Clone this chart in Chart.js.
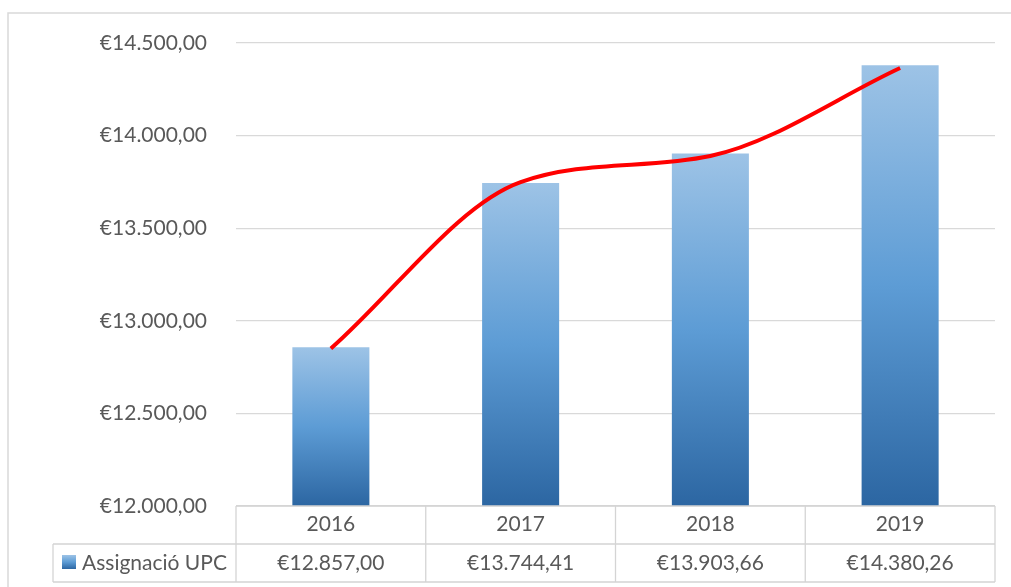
<!DOCTYPE html>
<html>
<head>
<meta charset="utf-8">
<script src="https://cdn.jsdelivr.net/npm/chart.js@4/dist/chart.umd.min.js"></script>
<style>
  html, body { margin: 0; padding: 0; background: #fff; }
  #wrap { position: relative; width: 1011px; height: 587px; }
</style>
</head>
<body>
<div id="wrap"><canvas id="grafic" width="1011" height="587"></canvas></div>
<script>
// dades del gràfic
const anys = ["2016", "2017", "2018", "2019"];
const assignacio = [12857.0, 13744.41, 13903.66, 14380.26];
// línia de tendència (llegida del gràfic)
const tendencia = [12850, 13749, 13890, 14365];
const etiquetaSerie = "Assignació UPC";

const textColor = "#595959";
const lineColor = "#d9d9d9";
const fontFamily = "Lato, 'Open Sans', sans-serif";
const fontSize = 21;

function formatEuro(v) {
  const parts = v.toFixed(2).split(".");
  const ent = parts[0].replace(/\B(?=(\d{3})+(?!\d))/g, ".");
  return "€" + ent + "," + parts[1];
}

function barGradient(ctx, top, bottom) {
  const g = ctx.createLinearGradient(0, top, 0, bottom);
  g.addColorStop(0, "#9dc3e6");
  g.addColorStop(0.5, "#5d9cd5");
  g.addColorStop(1, "#2c66a2");
  return g;
}

// taula de dades sota l'eix X
const taulaPlugin = {
  id: "taulaDades",
  beforeDraw(chart) {
    const ctx = chart.ctx;
    ctx.save();
    ctx.strokeStyle = lineColor;
    ctx.lineWidth = 1.5;
    ctx.strokeRect(8, 13, 1200, 800);
    ctx.restore();
  },
  afterDraw(chart) {
    const { ctx, chartArea, scales } = chart;
    const x = scales.x;
    const top = chartArea.bottom;
    const mid = top + 38;
    const bot = top + 76;
    const left = chartArea.left;
    const right = chartArea.right;
    const legLeft = 53;

    ctx.save();
    ctx.strokeStyle = "#d4d4d4";
    ctx.lineWidth = 1.3;
    ctx.beginPath();
    ctx.moveTo(left, top); ctx.lineTo(right, top);
    ctx.moveTo(legLeft, mid); ctx.lineTo(right, mid);
    ctx.moveTo(legLeft, bot); ctx.lineTo(right, bot);
    ctx.moveTo(legLeft, mid); ctx.lineTo(legLeft, bot);
    for (let i = 0; i <= anys.length; i++) {
      const px = x.getPixelForValue(i - 0.5);
      ctx.moveTo(px, top); ctx.lineTo(px, bot);
    }
    ctx.stroke();

    // llegenda
    ctx.fillStyle = barGradient(ctx, mid + 11, mid + 25);
    ctx.fillRect(62, mid + 11, 14, 14);

    ctx.fillStyle = textColor;
    ctx.font = fontSize + "px " + fontFamily;
    ctx.textBaseline = "middle";
    ctx.textAlign = "left";
    ctx.fillText(etiquetaSerie, 82, (mid + bot) / 2);

    ctx.textAlign = "center";
    assignacio.forEach((v, i) => {
      ctx.fillText(formatEuro(v), x.getPixelForValue(i), (mid + bot) / 2);
    });
    ctx.restore();
  }
};

new Chart(document.getElementById("grafic"), {
  data: {
    labels: anys,
    datasets: [
      {
        type: "line",
        label: "Tendència",
        data: tendencia,
        borderColor: "#ff0000",
        borderWidth: 4,
        pointRadius: 0,
        cubicInterpolationMode: "monotone",
        fill: false,
        order: 0
      },
      {
        type: "bar",
        label: etiquetaSerie,
        data: assignacio,
        backgroundColor: function (context) {
          const chart = context.chart;
          const y = chart.scales.y;
          if (!chart.chartArea || !y || context.raw === undefined) return "#5b9bd5";
          const top = y.getPixelForValue(context.raw);
          return barGradient(chart.ctx, top, chart.chartArea.bottom);
        },
        borderWidth: 0,
        categoryPercentage: 1,
        barPercentage: 0.406,
        order: 1
      }
    ]
  },
  options: {
    responsive: false,
    animation: false,
    layout: { padding: { left: 0, right: 16, top: 43, bottom: 5 } },
    plugins: {
      legend: { display: false },
      tooltip: { enabled: false }
    },
    scales: {
      x: {
        offset: true,
        grid: { display: false, drawTicks: false },
        border: { display: false },
        ticks: {
          color: textColor,
          font: { family: fontFamily, size: fontSize },
          padding: 6
        },
        afterFit(scale) { scale.height = 76; }
      },
      y: {
        min: 12000,
        max: 14500,
        grid: { color: lineColor, lineWidth: 1.3, drawTicks: false },
        border: { display: false },
        ticks: {
          stepSize: 500,
          color: textColor,
          font: { family: fontFamily, size: fontSize },
          padding: 29,
          callback: (v) => formatEuro(v)
        },
        afterFit(scale) { scale.width = 236; }
      }
    }
  },
  plugins: [taulaPlugin]
});
</script>
</body>
</html>
